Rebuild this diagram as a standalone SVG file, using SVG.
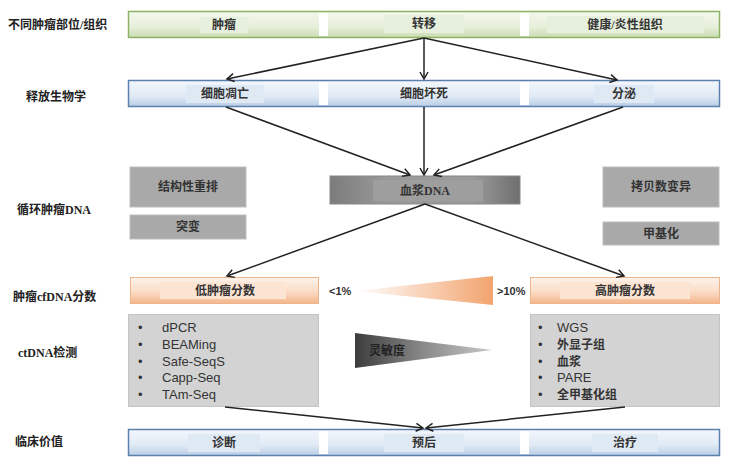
<svg xmlns="http://www.w3.org/2000/svg" width="734" height="470" viewBox="0 0 734 470">
<defs>
<linearGradient id="gGreen" x1="0" y1="0" x2="0" y2="1"><stop offset="0" stop-color="#f4f8ee"/><stop offset="0.6" stop-color="#e6efda"/><stop offset="1" stop-color="#c9dcb2"/></linearGradient>
<linearGradient id="gBlue" x1="0" y1="0" x2="0" y2="1"><stop offset="0" stop-color="#f3f7fc"/><stop offset="0.6" stop-color="#e0eaf5"/><stop offset="1" stop-color="#b9cde5"/></linearGradient>
<linearGradient id="gOrange" x1="0" y1="0" x2="0" y2="1"><stop offset="0" stop-color="#fdf3ec"/><stop offset="0.55" stop-color="#fbdcc6"/><stop offset="1" stop-color="#f4b58c"/></linearGradient>
<linearGradient id="gPlasma" x1="0" y1="0" x2="1" y2="0"><stop offset="0" stop-color="#7c7c7c"/><stop offset="0.3" stop-color="#999"/><stop offset="0.75" stop-color="#9a9a9a"/><stop offset="1" stop-color="#6f6f6f"/></linearGradient>
<linearGradient id="gTriO" x1="0" y1="0" x2="1" y2="0"><stop offset="0" stop-color="#fff"/><stop offset="1" stop-color="#f2a46e"/></linearGradient>
<linearGradient id="gTriG" x1="0" y1="0" x2="1" y2="0"><stop offset="0" stop-color="#3c3c3c"/><stop offset="0.5" stop-color="#8a8a8a"/><stop offset="1" stop-color="#c8c8c8"/></linearGradient>
<marker id="ah" markerWidth="10" markerHeight="10" refX="8" refY="5" orient="auto" markerUnits="userSpaceOnUse"><path d="M1,1 L8,5 L1,9" fill="none" stroke="#222" stroke-width="1.5"/></marker>
<style>
.lbl{font-family:"Liberation Serif","Noto Sans CJK SC",serif;font-size:12px;font-weight:bold;fill:#222}
.t{font-family:"Liberation Serif","Noto Sans CJK SC",serif;font-size:12px;font-weight:bold;fill:#333;text-anchor:middle;dominant-baseline:central}
.en{font-family:"Liberation Sans","Noto Sans CJK SC",sans-serif;font-size:13px;fill:#333}
.pc{font-family:"Liberation Sans",sans-serif;font-size:11px;font-weight:bold;fill:#333;dominant-baseline:central}
.gap{fill:#fff}
.hg{fill:#e7f0dc}
.hb{fill:#dfe9f4}
.ho{fill:#fce4d3}
.gbox{fill:#a9a9a9;stroke:#bdbdbd;stroke-width:1}
.dbox{fill:#d3d3d3;stroke:#c4c4c4;stroke-width:1}
.conn path{fill:none;stroke:#222;stroke-width:1.5;marker-end:url(#ah)}
</style>
</defs>
<rect width="734" height="470" fill="#fff"/>

<!-- row labels -->
<g id="row-labels">
<text class="lbl" x="8" y="29">不同肿瘤部位/组织</text>
<text class="lbl" x="26" y="101">释放生物学</text>
<text class="lbl" x="17" y="214">循环肿瘤DNA</text>
<text class="lbl" x="13" y="301">肿瘤cfDNA分数</text>
<text class="lbl" x="18" y="357">ctDNA检测</text>
<text class="lbl" x="15" y="446">临床价值</text>
</g>

<!-- row 1 -->
<g id="row1-frame">
<rect x="128.5" y="11.5" width="591" height="26" fill="url(#gGreen)" stroke="#8db263" stroke-width="1.5"/>
<rect class="gap" x="319" y="13" width="9" height="23"/>
<rect class="gap" x="520" y="13" width="9" height="23"/>
</g>
<g id="n-tumor"><rect class="hg" x="200" y="17" width="48" height="16"/><text class="t" x="224" y="25">肿瘤</text></g>
<g id="n-metastasis"><rect class="hg" x="384" y="15" width="80" height="18"/><text class="t" x="424" y="24">转移</text></g>
<g id="n-healthy"><rect class="hg" x="547" y="16" width="157" height="17"/><text class="t" x="625" y="25">健康/炎性组织</text></g>

<!-- row 2 -->
<g id="row2-frame">
<rect x="128.5" y="80.5" width="591" height="26" fill="url(#gBlue)" stroke="#5b80ad" stroke-width="1.5"/>
<rect class="gap" x="319" y="82" width="9" height="23"/>
<rect class="gap" x="520" y="82" width="9" height="23"/>
</g>
<g id="n-apoptosis"><rect class="hb" x="186" y="85" width="78" height="18"/><text class="t" x="225" y="94">细胞凋亡</text></g>
<g id="n-necrosis"><text class="t" x="424" y="94">细胞坏死</text></g>
<g id="n-secretion"><rect class="hb" x="594" y="85" width="60" height="18"/><text class="t" x="624" y="94">分泌</text></g>

<!-- ctDNA features -->
<g id="n-rearrange"><rect class="gbox" x="130" y="167" width="116" height="40"/><text class="t" x="188" y="187">结构性重排</text></g>
<g id="n-mutation"><rect class="gbox" x="130" y="215" width="116" height="24"/><text class="t" x="188" y="227">突变</text></g>
<g id="n-cnv"><rect class="gbox" x="603" y="167" width="116" height="40"/><text class="t" x="661" y="187">拷贝数变异</text></g>
<g id="n-methyl"><rect class="gbox" x="603" y="222" width="116" height="23"/><text class="t" x="661" y="233.5">甲基化</text></g>
<g id="n-plasma">
<rect x="330" y="176" width="190" height="28" fill="url(#gPlasma)" stroke="#888" stroke-width="1"/>
<rect x="373" y="180" width="110" height="21" fill="#9e9e9e"/>
<text class="t" x="425" y="190.5">血浆DNA</text>
</g>

<!-- fraction row -->
<g id="n-low"><rect x="130.5" y="277.5" width="188" height="26" fill="url(#gOrange)" stroke="#eeb48c" stroke-width="1"/><rect class="ho" x="160" y="282" width="126" height="17"/><text class="t" x="225" y="290.5">低肿瘤分数</text></g>
<g id="n-high"><rect x="530.5" y="277.5" width="189" height="26" fill="url(#gOrange)" stroke="#eeb48c" stroke-width="1"/><rect class="ho" x="560" y="282" width="130" height="17"/><text class="t" x="625" y="290.5">高肿瘤分数</text></g>
<g id="fraction-scale">
<text class="pc" x="329" y="291">&lt;1%</text>
<polygon points="355,291 493,276 493,305" fill="url(#gTriO)"/>
<text class="pc" x="497" y="291">&gt;10%</text>
</g>

<!-- detection -->
<g id="n-detect-low">
<rect class="dbox" x="128.5" y="314.5" width="190" height="92"/>
<g class="en">
<text x="138" y="332">•</text><text x="162" y="332">dPCR</text>
<text x="138" y="349">•</text><text x="162" y="349">BEAMing</text>
<text x="138" y="366">•</text><text x="162" y="366">Safe-SeqS</text>
<text x="138" y="382">•</text><text x="162" y="382">Capp-Seq</text>
<text x="138" y="399">•</text><text x="162" y="399">TAm-Seq</text>
</g>
</g>
<g id="n-sensitivity">
<polygon points="355,333 492,350 355,368" fill="url(#gTriG)"/>
<text class="t" x="387" y="351" style="fill:#222">灵敏度</text>
</g>
<g id="n-detect-high">
<rect class="dbox" x="530.5" y="314.5" width="189" height="92"/>
<g class="en">
<text x="538" y="332">•</text><text x="557" y="332">WGS</text>
<text x="538" y="349">•</text><text x="557" y="349" style="font-family:'Liberation Serif','Noto Sans CJK SC',serif;font-weight:bold;font-size:12px">外显子组</text>
<text x="538" y="366">•</text><text x="557" y="366" style="font-family:'Liberation Serif','Noto Sans CJK SC',serif;font-weight:bold;font-size:12px">血浆</text>
<text x="538" y="382">•</text><text x="557" y="382">PARE</text>
<text x="538" y="399">•</text><text x="557" y="399" style="font-family:'Liberation Serif','Noto Sans CJK SC',serif;font-weight:bold;font-size:12px">全甲基化组</text>
</g>
</g>

<!-- clinical row -->
<g id="row6-frame">
<rect x="128.5" y="429.5" width="591" height="26" fill="url(#gBlue)" stroke="#5b80ad" stroke-width="1.5"/>
<rect class="gap" x="319" y="431" width="9" height="23"/>
<rect class="gap" x="520" y="431" width="9" height="23"/>
</g>
<g id="n-diagnosis"><rect class="hb" x="188" y="434" width="72" height="18"/><text class="t" x="224" y="443">诊断</text></g>
<g id="n-prognosis"><rect class="hb" x="384" y="434" width="80" height="18"/><text class="t" x="424" y="443">预后</text></g>
<g id="n-therapy"><rect class="hb" x="592" y="434" width="66" height="18"/><text class="t" x="625" y="443">治疗</text></g>

<!-- connectors -->
<g id="connectors" class="conn">
<path d="M424,38 L227,79"/>
<path d="M424,38 L424,79"/>
<path d="M424,38 L617,80"/>
<path d="M226,107 L410,175"/>
<path d="M424,107 L424,175"/>
<path d="M623,107 L434,175"/>
<path d="M425,204 L227,276"/>
<path d="M425,204 L624,276"/>
<path d="M225,407 L423,428"/>
<path d="M625,407 L426,428"/>
</g>
</svg>
